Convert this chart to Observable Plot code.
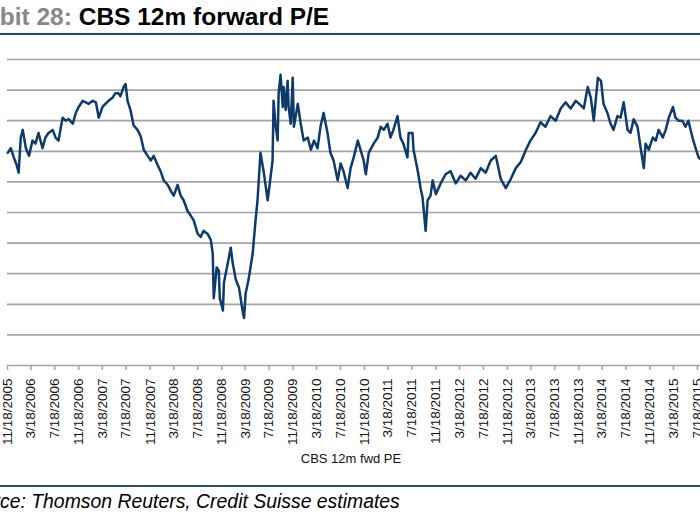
<!DOCTYPE html>
<html>
<head>
<meta charset="utf-8">
<script src="https://cdn.jsdelivr.net/npm/d3@7"></script>
<script src="https://cdn.jsdelivr.net/npm/@observablehq/plot@0.6"></script>
<style>
  html, body { margin: 0; padding: 0; background: #fff; }
  body { width: 700px; height: 525px; overflow: hidden; position: relative; font-family: "Liberation Sans", Arial, sans-serif; }
  #title { position: relative; height: 40px; }
  #title .t { position: absolute; left: -52px; top: 3px; font-weight: bold; font-size: 24.5px; white-space: nowrap; color: #000; }
  #title .t span { color: #888888; }
  #title .rule { position: absolute; left: 0; top: 33px; width: 700px; height: 2px; background: #1f4a78; }
  #footer { position: relative; height: 45px; }
  #footer .rule { position: absolute; left: 0; top: 5px; width: 700px; height: 2px; background: #2b4c74; }
  #footer .s { position: absolute; left: -41px; top: 10px; font-style: italic; font-size: 19.4px; white-space: nowrap; color: #000; }
</style>
</head>
<body>
<div id="title"><div class="t"><span>Exhibit 28:</span> CBS 12m forward P/E</div><div class="rule"></div></div>
<div id="chart"></div>
<div id="footer"><div class="rule"></div><div class="s">Source: Thomson Reuters, Credit Suisse estimates</div></div>
<script>
// ---- data ----
const seriesName = "CBS 12m fwd PE";
const dates = [
  "2005-11-19","2005-12-05","2005-12-20","2006-01-04","2006-01-14","2006-01-25","2006-02-04","2006-02-20","2006-03-08","2006-03-26",
  "2006-04-10","2006-04-26","2006-05-16","2006-05-31","2006-06-16","2006-07-07","2006-07-22","2006-08-06","2006-08-27","2006-09-11",
  "2006-09-27","2006-10-18","2006-11-02","2006-11-17","2006-12-08","2006-12-23","2007-01-07","2007-01-28","2007-02-13","2007-02-28",
  "2007-03-19","2007-04-03","2007-04-19","2007-05-09","2007-05-24","2007-06-08","2007-06-19","2007-07-05","2007-07-15","2007-07-25",
  "2007-08-09","2007-08-25","2007-09-14","2007-09-30","2007-10-16","2007-11-05","2007-11-21","2007-12-06","2007-12-26","2008-01-10",
  "2008-01-26","2008-02-16","2008-03-03","2008-03-17","2008-04-06","2008-04-22","2008-05-07","2008-05-27","2008-06-12","2008-06-27",
  "2008-07-18","2008-08-02","2008-08-17","2008-09-07","2008-09-23","2008-10-03","2008-10-08","2008-10-23","2008-11-03","2008-11-08",
  "2008-11-24","2008-11-29","2008-12-19","2009-01-03","2009-01-13","2009-01-29","2009-02-14","2009-03-07","2009-03-12","2009-03-20",
  "2009-04-04","2009-04-25","2009-05-10","2009-05-20","2009-06-04","2009-06-20","2009-07-11","2009-08-05","2009-08-10","2009-08-21",
  "2009-08-31","2009-09-05","2009-09-15","2009-09-26","2009-10-01","2009-10-11","2009-10-21","2009-10-26","2009-11-06","2009-11-16",
  "2009-11-22","2009-12-12","2009-12-27","2010-01-11","2010-02-01","2010-02-17","2010-03-05","2010-03-23","2010-04-07","2010-04-23",
  "2010-05-13","2010-05-28","2010-06-13","2010-07-04","2010-07-19","2010-08-03","2010-08-24","2010-09-08","2010-09-24","2010-10-15",
  "2010-10-29","2010-11-14","2010-11-25","2010-12-10","2011-01-04","2011-01-25","2011-02-09","2011-02-25","2011-03-16","2011-03-31",
  "2011-04-15","2011-05-06","2011-05-21","2011-06-05","2011-06-26","2011-07-02","2011-07-22","2011-07-27","2011-08-18","2011-09-01",
  "2011-09-11","2011-09-27","2011-10-07","2011-10-22","2011-11-02","2011-11-18","2011-12-13","2012-01-07","2012-02-02","2012-02-28",
  "2012-03-24","2012-04-19","2012-05-14","2012-06-08","2012-07-05","2012-07-30","2012-08-25","2012-09-20","2012-10-15","2012-11-10",
  "2012-12-06","2012-12-31","2013-01-26","2013-02-21","2013-03-16","2013-04-11","2013-05-07","2013-06-01","2013-06-27","2013-07-23",
  "2013-08-18","2013-09-12","2013-10-08","2013-11-03","2013-11-29","2013-12-14","2014-01-03","2014-01-19","2014-02-03","2014-02-24",
  "2014-03-12","2014-03-25","2014-04-14","2014-04-30","2014-05-15","2014-06-04","2014-06-20","2014-07-06","2014-07-26","2014-08-10",
  "2014-08-26","2014-09-15","2014-10-01","2014-10-17","2014-10-26","2014-11-11","2014-12-02","2014-12-17","2015-01-01","2015-01-22",
  "2015-02-06","2015-02-22","2015-03-15","2015-03-28","2015-04-12","2015-05-03","2015-05-18","2015-06-02","2015-06-23","2015-07-09",
  "2015-07-24","2015-08-03"
];
const peValues = [
  13.9,14.2,13.6,13.1,12.6,14.9,15.4,14.2,13.7,14.7,
  14.5,15.2,14.2,14.9,15.2,15.4,14.9,14.7,16.2,16.0,
  16.1,15.8,16.5,16.9,17.3,17.2,17.1,17.3,17.2,16.2,
  16.9,17.1,17.3,17.5,17.8,17.8,17.6,18.2,18.4,17.3,
  16.7,15.7,15.4,15.0,14.1,13.7,13.4,13.7,13.1,12.7,
  12.1,11.8,11.4,11.1,11.8,11.1,10.8,10.1,9.8,9.5,
  8.6,8.4,8.8,8.6,8.2,7.3,4.4,6.4,6.2,4.4,
  3.6,5.4,6.7,7.7,6.7,5.6,5.1,3.4,3.1,4.7,
  5.6,7.3,9.5,10.8,13.9,12.7,10.8,13.4,17.3,15.6,
  14.7,17.8,19.0,16.9,18.2,16.7,18.6,16.9,15.8,18.8,
  15.6,17.1,15.8,14.7,14.9,14.1,14.7,14.2,15.6,16.5,
  15.2,13.9,13.4,12.1,13.2,12.7,11.6,12.9,13.6,14.7,
  14.1,13.4,12.5,13.9,14.5,14.9,15.6,15.4,15.8,14.9,
  15.4,16.3,14.9,14.5,13.6,15.2,15.2,14.1,12.7,11.6,
  11.0,8.8,10.8,11.1,12.1,11.2,11.9,12.5,12.7,11.9,
  12.4,12.1,12.6,12.2,12.9,12.6,13.4,13.7,12.2,11.6,
  12.2,12.9,13.3,14.1,14.7,15.2,15.9,15.6,16.3,16.0,
  16.8,17.2,16.8,17.3,17.0,16.8,18.2,17.5,16.0,18.8,
  18.6,17.1,16.5,15.8,15.4,16.3,16.2,17.2,15.4,15.2,
  16.1,15.6,14.2,12.9,14.5,14.1,14.9,14.7,15.4,14.9,
  15.4,16.2,16.9,16.2,16.0,16.0,15.6,16.0,14.9,14.2,
  13.6,13.5
];
const tickLabels = [
  "11/18/2005","3/18/2006","7/18/2006","11/18/2006","3/18/2007","7/18/2007","11/18/2007","3/18/2008","7/18/2008","11/18/2008",
  "3/18/2009","7/18/2009","11/18/2009","3/18/2010","7/18/2010","11/18/2010","3/18/2011","7/18/2011","11/18/2011","3/18/2012",
  "7/18/2012","11/18/2012","3/18/2013","7/18/2013","11/18/2013","3/18/2014","7/18/2014","11/18/2014","3/18/2015","7/18/2015"
];
const gridValues = [0, 2, 4, 6, 8, 10, 12, 14, 16, 18, 20];
const xStart = "2005-11-18";
const xEnd = "2015-08-03";

// ---- build ----
const parseISO = d3.utcParse("%Y-%m-%d");
const parseMDY = d3.utcParse("%m/%d/%Y");
const data = dates.map((d, i) => ({date: parseISO(d), pe: peValues[i]}));
const tickDates = tickLabels.map(parseMDY);
const labelOf = new Map(tickDates.map((d, i) => [+d, tickLabels[i]]));

const chart = Plot.plot({
  width: 700,
  height: 440,
  marginLeft: 7,
  marginRight: 0,
  marginTop: 19,
  marginBottom: 115,
  style: {fontFamily: "'Liberation Sans', Arial, sans-serif", fontSize: "13.5px", color: "#111", background: "white", overflow: "visible"},
  x: {type: "utc", domain: [parseISO(xStart), parseISO(xEnd)]},
  y: {domain: [0, 20]},
  marks: [
    Plot.ruleY(gridValues, {stroke: "#a5a5a5", strokeWidth: 1.7}),
    Plot.axisX({ticks: tickDates, tickFormat: d => labelOf.get(+d), tickRotate: -90, tickSize: 5, tickPadding: 8, stroke: "#a5a5a5", strokeWidth: 1.5, fill: "#111", label: null}),
    Plot.axisY({ticks: [], label: null}),
    Plot.line(data, {x: "date", y: "pe", stroke: "#0e3b6b", strokeWidth: 2.5, strokeLinejoin: "round"}),
    Plot.text([seriesName], {frameAnchor: "bottom", dy: 97, dx: -3, fontSize: 13, fill: "#111"})
  ]
});
document.getElementById("chart").appendChild(chart);
</script>
</body>
</html>
